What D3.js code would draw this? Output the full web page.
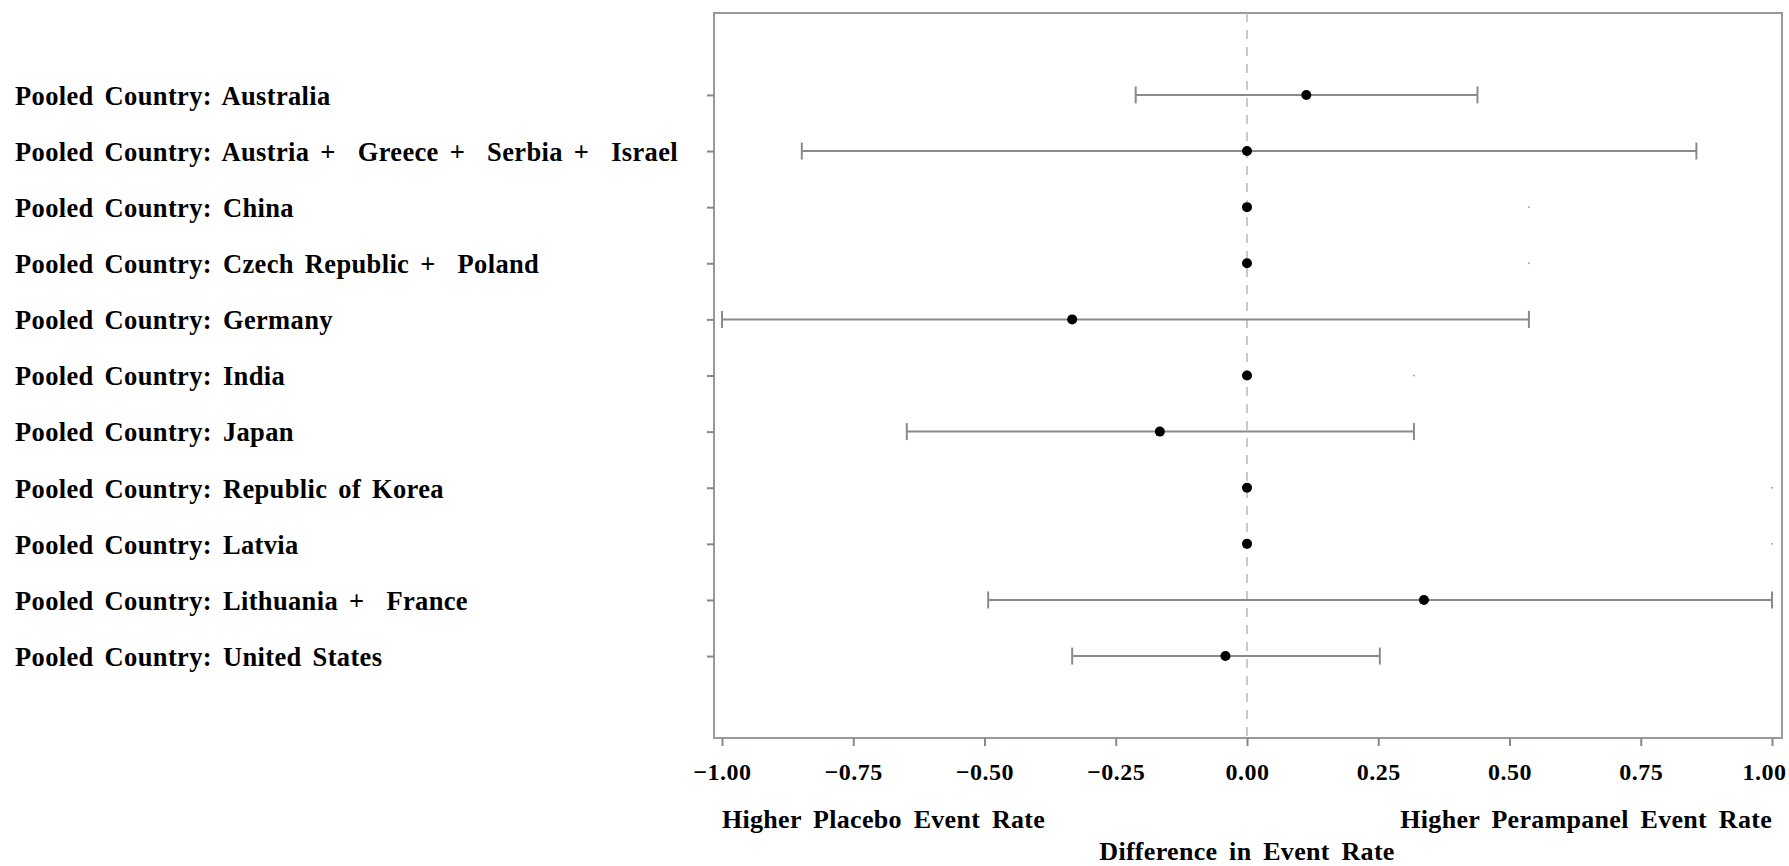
<!DOCTYPE html>
<html lang="en">
<head>
    <meta charset="UTF-8">
    <title>Difference in Event Rate by Pooled Country</title>
    <script src="https://d3js.org/d3.v7.min.js"></script>
    <style>
        body {
            margin: 0;
            background: #fff;
        }

        text {
            font-family: "Liberation Serif", "Times New Roman", serif;
            font-weight: bold;
            fill: #000;
        }

        .cat-label {
            font-size: 26.5px;
            letter-spacing: 0.35px;
            word-spacing: 4px;
            white-space: pre;
        }

        .axis-title {
            font-size: 26px;
            letter-spacing: 0.3px;
            word-spacing: 5px;
        }

        .x-axis text {
            font-size: 24px;
            letter-spacing: 0.5px;
        }

        .frame {
            fill: none;
            stroke: #999;
            stroke-width: 2;
        }

        .tick line {
            stroke: #888;
            stroke-width: 2;
        }

        .ref-line {
            stroke: #b8b8b8;
            stroke-width: 1.5;
            stroke-dasharray: 9 8;
        }

        .ci {
            stroke: #8a8a8a;
            stroke-width: 2;
        }
    </style>
</head>
<body>
    <div id="chart"></div>

    <script>
        // Categories (top to bottom)
        const countries = [
            "Pooled Country: Australia",
            "Pooled Country: Austria +  Greece +  Serbia +  Israel",
            "Pooled Country: China",
            "Pooled Country: Czech Republic +  Poland",
            "Pooled Country: Germany",
            "Pooled Country: India",
            "Pooled Country: Japan",
            "Pooled Country: Republic of Korea",
            "Pooled Country: Latvia",
            "Pooled Country: Lithuania +  France",
            "Pooled Country: United States"
        ];

        // Difference in event rate and confidence limits (null = no interval drawn)
        const estimate = [0.113, 0.0, 0.0, 0.0, -0.333, 0.0, -0.166, 0.0, 0.0, 0.337, -0.041];
        const lower    = [-0.212, -0.848, null, null, -1.0, null, -0.648, null, null, -0.493, -0.333];
        const upper    = [0.439, 0.856, null, null, 0.537, null, 0.318, null, null, 1.0, 0.253];

        // Faint leftover marks seen at the end of some empty intervals
        const strayMark = [null, null, 0.537, 0.537, null, 0.318, null, 1.0, 1.0, null, null];

        const xTicks = [-1, -0.75, -0.5, -0.25, 0, 0.25, 0.5, 0.75, 1];

        const totalWidth = 1789, totalHeight = 866;
        const frame = { left: 714, right: 1782, top: 13, bottom: 738 };

        const svg = d3.select("#chart")
            .append("svg")
            .attr("width", totalWidth)
            .attr("height", totalHeight);

        const x = d3.scaleLinear().domain([-1, 1]).range([722, 1772]);
        const y = d3.scalePoint().domain(countries).range([frame.top, frame.bottom]).padding(1.46);

        // Plot frame
        svg.append("rect")
            .attr("class", "frame")
            .attr("x", frame.left)
            .attr("y", frame.top)
            .attr("width", frame.right - frame.left)
            .attr("height", frame.bottom - frame.top);

        // Y axis: ticks on the frame, labels left-aligned at the page edge
        const yAxis = svg.append("g")
            .attr("class", "y-axis")
            .attr("transform", `translate(${frame.left},0)`)
            .call(d3.axisLeft(y).tickSize(7).tickSizeOuter(0));
        yAxis.select(".domain").remove();
        yAxis.selectAll("text")
            .attr("class", "cat-label")
            .attr("x", 15 - frame.left)
            .attr("dy", "0.35em")
            .attr("text-anchor", "start")
            .attr("font-size", null)
            .attr("font-family", null);

        // X axis along the bottom of the frame
        const xAxis = svg.append("g")
            .attr("class", "x-axis")
            .attr("transform", `translate(0,${frame.bottom})`)
            .call(d3.axisBottom(x).tickValues(xTicks).tickSize(8).tickFormat(d3.format(".2f")));
        xAxis.select(".domain").remove();
        xAxis.selectAll("text")
            .attr("y", 42)
            .attr("dy", 0)
            .attr("font-size", null)
            .attr("font-family", null);
        // last label is pulled in so it stays on the page
        xAxis.selectAll("text")
            .filter(d => d === 1)
            .attr("text-anchor", "end")
            .attr("x", 14);

        // Reference line at zero
        svg.append("line")
            .attr("class", "ref-line")
            .attr("x1", x(0)).attr("x2", x(0))
            .attr("y1", frame.top).attr("y2", frame.bottom);

        const rows = countries.map((c, i) => ({
            c, est: estimate[i], lo: lower[i], hi: upper[i], stray: strayMark[i]
        }));

        const withCI = rows.filter(d => d.lo !== null);
        const capH = 8.5;

        const ci = svg.append("g");
        ci.selectAll(".ci-line")
            .data(withCI)
            .join("line")
            .attr("class", "ci")
            .attr("x1", d => x(d.lo)).attr("x2", d => x(d.hi))
            .attr("y1", d => y(d.c)).attr("y2", d => y(d.c));
        ci.selectAll(".cap-lo")
            .data(withCI)
            .join("line")
            .attr("class", "ci")
            .attr("x1", d => x(d.lo)).attr("x2", d => x(d.lo))
            .attr("y1", d => y(d.c) - capH).attr("y2", d => y(d.c) + capH);
        svg.append("g").selectAll("line")
            .data(withCI)
            .join("line")
            .attr("class", "ci")
            .attr("x1", d => x(d.hi)).attr("x2", d => x(d.hi))
            .attr("y1", d => y(d.c) - capH).attr("y2", d => y(d.c) + capH);

        // tiny stray marks
        svg.append("g").selectAll("circle")
            .data(rows.filter(d => d.stray !== null))
            .join("circle")
            .attr("cx", d => x(d.stray))
            .attr("cy", d => y(d.c))
            .attr("r", 0.9)
            .attr("fill", "#999");

        // Point estimates
        svg.append("g").selectAll("circle")
            .data(rows)
            .join("circle")
            .attr("cx", d => x(d.est))
            .attr("cy", d => y(d.c))
            .attr("r", 5)
            .attr("fill", "#000");

        // Axis side notes and title
        svg.append("text")
            .attr("class", "axis-title")
            .attr("x", x(-1))
            .attr("y", 828)
            .attr("text-anchor", "start")
            .text("Higher Placebo Event Rate");

        svg.append("text")
            .attr("class", "axis-title")
            .attr("x", x(1))
            .attr("y", 828)
            .attr("text-anchor", "end")
            .text("Higher Perampanel Event Rate");

        svg.append("text")
            .attr("class", "axis-title")
            .attr("x", x(0))
            .attr("y", 860)
            .attr("text-anchor", "middle")
            .text("Difference in Event Rate");
    </script>
</body>
</html>
